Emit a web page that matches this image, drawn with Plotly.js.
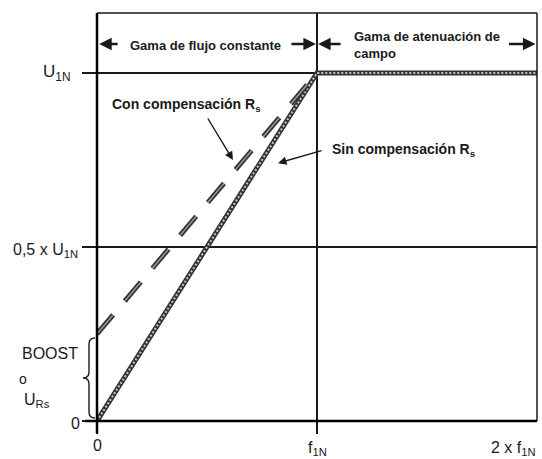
<!DOCTYPE html>
<html>
<head>
<meta charset="utf-8">
<script src="https://cdn.plot.ly/plotly-3.0.1.min.js"></script>
<style>
  html, body { margin: 0; padding: 0; background: #fff; }
  #chart { width: 542px; height: 459px; }
</style>
</head>
<body>
<div id="chart"></div>
<script>
// Frequency axis in multiples of f1N, voltage axis in multiples of U1N
const freqTicks = [0, 1];
const voltTicks = [0, 0.5, 1];

// V/f characteristic without stator resistance compensation
const sinFreq = [0, 1, 2];
const sinVolt = [0, 1, 1];

// V/f characteristic with Rs compensation (starts at the boost voltage)
const conFreq = [0, 1];
const conVolt = [0.25, 1];

const FONT = 'Liberation Sans, Arial, sans-serif';
const INK = '#1a1a1a';
const yTop = 1.1724;

const traces = [
  { x: sinFreq, y: sinVolt, mode: 'lines', hoverinfo: 'skip',
    line: { color: '#333333', width: 5 } },
  { x: sinFreq, y: sinVolt, mode: 'lines', hoverinfo: 'skip',
    line: { color: '#c4c4c4', width: 2, dash: '2px,2px' } },
  { x: conFreq, y: conVolt, mode: 'lines', hoverinfo: 'skip',
    line: { color: '#333333', width: 5, dash: '25px,18px' } },
  { x: conFreq, y: conVolt, mode: 'lines', hoverinfo: 'skip',
    line: { color: '#9a9a9a', width: 1.5, dash: '25px,18px' } }
];

const txt = (size, bold) => ({ family: FONT, size: size, color: INK, weight: bold ? 'bold' : 'normal' });

const annotations = [
  // range labels in the top band
  { x: 0.491, y: 1.080, xref: 'x', yref: 'y', text: 'Gama de flujo constante',
    showarrow: false, font: txt(13, true) },
  { x: 1.159, y: 1.080, xref: 'x', yref: 'y', text: 'Gama de atenuación de<br>campo',
    xanchor: 'left', align: 'left', showarrow: false, font: txt(13, true) },
  // range arrows
  { x: 0.01, y: 1.083, xref: 'x', yref: 'y', ax: 20, ay: 0, text: '',
    showarrow: true, arrowhead: 2, arrowsize: 1, arrowwidth: 2.5, arrowcolor: INK },
  { x: 0.995, y: 1.083, xref: 'x', yref: 'y', ax: -26, ay: 0, text: '',
    showarrow: true, arrowhead: 2, arrowsize: 1, arrowwidth: 2.5, arrowcolor: INK },
  { x: 1.005, y: 1.083, xref: 'x', yref: 'y', ax: 24, ay: 0, text: '',
    showarrow: true, arrowhead: 2, arrowsize: 1, arrowwidth: 2.5, arrowcolor: INK },
  { x: 1.993, y: 1.083, xref: 'x', yref: 'y', ax: -28, ay: 0, text: '',
    showarrow: true, arrowhead: 2, arrowsize: 1, arrowwidth: 2.5, arrowcolor: INK },
  // curve labels
  { x: 0.409, y: 0.908, xref: 'x', yref: 'y', text: 'Con compensación R<sub>s</sub>',
    showarrow: false, font: txt(14, true) },
  { x: 0.618, y: 0.750, xref: 'x', yref: 'y', ax: -26, ay: -43, text: '',
    showarrow: true, arrowhead: 2, arrowsize: 1.2, arrowwidth: 1.4, arrowcolor: INK },
  { x: 1.059, y: 0.779, xref: 'x', yref: 'y', text: 'Sin compensación R<sub>s</sub>',
    xanchor: 'left', showarrow: false, font: txt(14, true) },
  { x: 0.823, y: 0.741, xref: 'x', yref: 'y', ax: 45, ay: -13, text: '',
    showarrow: true, arrowhead: 2, arrowsize: 1.2, arrowwidth: 1.4, arrowcolor: INK },
  // voltage axis labels
  { x: -0.057, y: 1, xref: 'paper', yref: 'y', xanchor: 'right', yanchor: 'middle',
    text: 'U<sub>1N</sub>', showarrow: false, font: txt(17, false) },
  { x: -0.039, y: 0.5, xref: 'paper', yref: 'y', xanchor: 'right', yanchor: 'middle', yshift: -3,
    text: '0,5 x U<sub>1N</sub>', showarrow: false, font: txt(16, false) },
  { x: -0.034, y: 0, xref: 'paper', yref: 'y', xanchor: 'right', yanchor: 'middle', yshift: -2,
    text: '0', showarrow: false, font: txt(16, false) },
  { x: -0.175, y: 0.195, xref: 'paper', yref: 'y', xanchor: 'left', yanchor: 'middle',
    text: 'BOOST', showarrow: false, font: txt(16, false) },
  { x: -0.181, y: 0.121, xref: 'paper', yref: 'y', xanchor: 'left', yanchor: 'middle',
    text: 'o', showarrow: false, font: txt(14, false) },
  { x: -0.170, y: 0.060, xref: 'paper', yref: 'y', xanchor: 'left', yanchor: 'middle',
    text: 'U<sub>Rs</sub>', showarrow: false, font: txt(16, false) },
  // frequency axis labels
  { x: 0, y: -0.061, xref: 'x', yref: 'paper', yanchor: 'middle', text: '0',
    showarrow: false, font: txt(16, false) },
  { x: 1, y: -0.068, xref: 'x', yref: 'paper', yanchor: 'middle', text: 'f<sub>1N</sub>',
    showarrow: false, font: txt(16, false) },
  { x: 1.002, y: -0.068, xref: 'paper', yref: 'paper', xanchor: 'right', yanchor: 'middle',
    text: '2 x f<sub>1N</sub>', showarrow: false, font: txt(16, false) }
];

// left brace marking the boost voltage, in pixel space converted to paper units
const L = 97, T = 13, W = 440, H = 408;
const px = v => (v - L) / W;
const py = v => (T + H - v) / H;
const brace = [
  ['M', 95, 338], ['Q', 89, 338, 89, 344], ['L', 89, 372], ['Q', 89, 378, 83, 378],
  ['Q', 89, 378, 89, 384], ['L', 89, 412], ['Q', 89, 418, 95, 418]
].map(s => s[0] + ' ' + s.slice(1).reduce((a, v, i) => a.concat(i % 2 ? py(v) : px(v)), []).join(' ')).join(' ');

const shapes = [
  { type: 'line', xref: 'paper', yref: 'paper', x0: 0, x1: 1, y0: 1, y1: 1,
    line: { color: INK, width: 1.5 } },
  { type: 'line', xref: 'paper', yref: 'paper', x0: 1, x1: 1, y0: 0, y1: 1,
    line: { color: INK, width: 1.5 } },
  { type: 'line', xref: 'paper', yref: 'paper', x0: 0, x1: 0, y0: -0.03, y1: 1,
    line: { color: '#000', width: 2.5 } },
  { type: 'line', xref: 'paper', yref: 'paper', x0: -0.027, x1: 1, y0: 0, y1: 0,
    line: { color: '#000', width: 2.5 } },
  { type: 'path', xref: 'paper', yref: 'paper', path: brace,
    line: { color: INK, width: 1.4 } }
];

const layout = {
  width: 542, height: 459,
  margin: { l: L, r: 5, t: T, b: 38 },
  paper_bgcolor: '#fff', plot_bgcolor: '#fff',
  showlegend: false,
  font: { family: FONT, color: INK },
  xaxis: { range: [0, 2], tickvals: freqTicks, showticklabels: false,
    ticks: 'outside', ticklen: 12, tickwidth: 1.2, tickcolor: INK,
    showgrid: true, gridcolor: INK, gridwidth: 1.2, zeroline: false, showline: false,
    fixedrange: true },
  yaxis: { range: [0, yTop], tickvals: voltTicks, showticklabels: false,
    ticks: 'outside', ticklen: 14, tickwidth: 1.2, tickcolor: INK,
    showgrid: true, gridcolor: INK, gridwidth: 1.2, zeroline: false, showline: false,
    fixedrange: true },
  annotations: annotations,
  shapes: shapes
};

Plotly.newPlot('chart', traces, layout, { staticPlot: true, displayModeBar: false });
</script>
</body>
</html>
